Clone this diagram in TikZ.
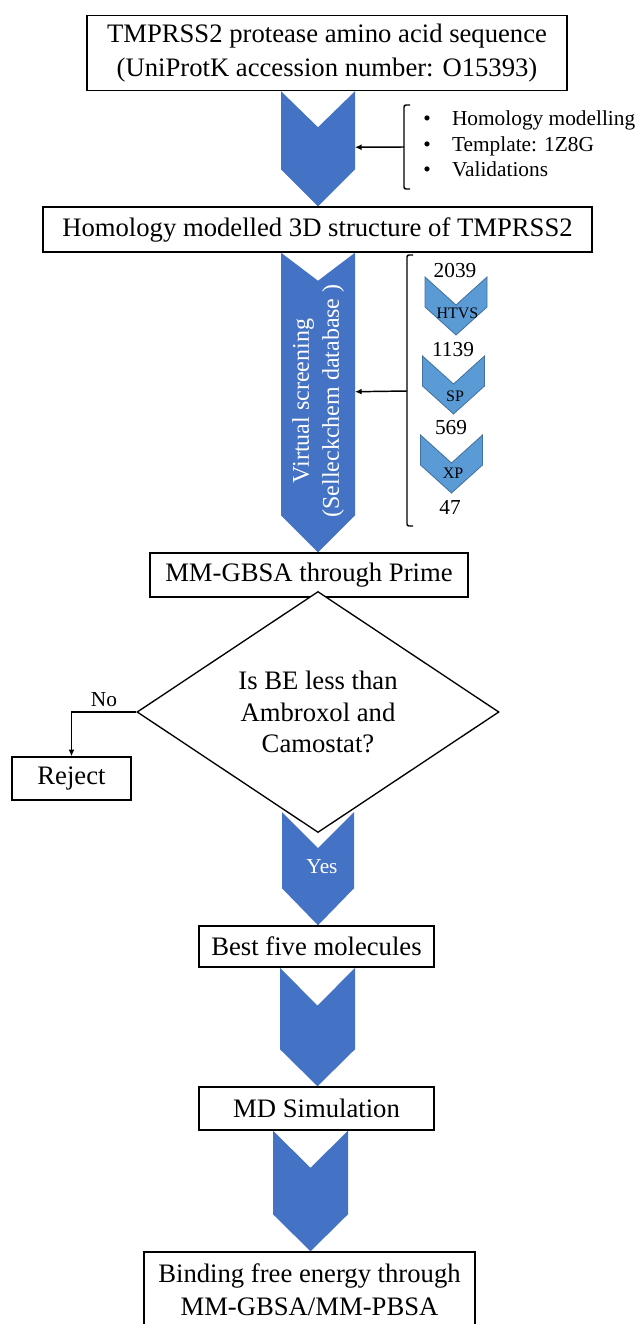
\documentclass[tikz,border=0pt]{standalone}
\usepackage{fontspec}
\setmainfont{Liberation Serif}
\usetikzlibrary{arrows.meta, calc, backgrounds, shapes.geometric}
\definecolor{chevblue}{HTML}{4472C4}
\definecolor{stepblue}{HTML}{5B9BD5}
\definecolor{stepline}{HTML}{41719C}

\begin{document}
\begin{tikzpicture}[x=0.75pt, y=-0.75pt,
    box/.style={draw, line width=1.1pt, fill=white, inner sep=0pt, align=center, font=\fontsize{20}{25}\selectfont},
    decision/.style={draw, diamond, line width=1pt, fill=white, inner sep=0pt, align=center,
      font=\fontsize{20}{23.6}\selectfont, minimum width=271.5pt, minimum height=172.5pt},
    bigchev/.style={fill=chevblue},
    smallchev/.style={fill=stepblue, draw=stepline, line width=0.6pt},
    link/.style={-{Latex[length=5pt, width=4.5pt]}, line width=1.1pt},
    brk/.style={line width=1.1pt, rounded corners=1.5pt},
    num/.style={inner sep=0pt, font=\fontsize{16}{19}\selectfont},
    steplab/.style={inner sep=0pt, font=\fontsize{12}{14}\selectfont}
    ]

    \useasboundingbox (0,0) rectangle (637,1324);

    % main boxes
    \node[box, minimum width=360pt, minimum height=56.25pt] (seq) at (327,53)
      {TMPRSS2 protease amino acid sequence\\(UniProtK accession number: O15393)};
    \node[box, minimum width=411.75pt, minimum height=33.75pt] (homol) at (317.5,229.5)
      {Homology modelled 3D structure of TMPRSS2};
    \node[box, minimum width=238.5pt, minimum height=33pt] (mmgbsa) at (309,575)
      {MM-GBSA through Prime};
    \node[decision] (dec) at (318,712) {Is BE less than\\Ambroxol and\\Camostat?};
    \node[box, minimum width=89.25pt, minimum height=32.25pt] (reject) at (71.5,778.5) {Reject};
    \node[box, minimum width=176.25pt, minimum height=30.75pt] (best) at (316.5,946.5)
      {Best five molecules};
    \node[box, minimum width=176.25pt, minimum height=32.25pt] (md) at (316.5,1108.5)
      {MD Simulation};
    \node[box, minimum width=248.25pt, minimum height=57pt] (bfe) at (309.5,1290)
      {Binding free energy through\\MM-GBSA/MM-PBSA};

    % chevron ends
    \coordinate (c1t) at (318,0 |- seq.south);
    \coordinate (c1b) at (318,0 |- homol.north);
    \coordinate (c2t) at (318,0 |- homol.south);
    \coordinate (c2b) at (318,0 |- mmgbsa.north);
    \coordinate (c3t) at ($(dec.south)+(0,-21)$);
    \coordinate (c3b) at (318,0 |- best.north);
    \coordinate (c4t) at (317.5,0 |- best.south);
    \coordinate (c4b) at (317.5,0 |- md.north);
    \coordinate (c5t) at (310.5,0 |- md.south);
    \coordinate (c5b) at (310.5,0 |- bfe.north);

    \begin{scope}[on background layer]
      \foreach \t/\b/\hw/\nd in {c1t/c1b/37/36, c2t/c2b/37/28, c3t/c3b/36/36, c4t/c4b/37.5/38, c5t/c5b/37.5/37}
        \fill[bigchev] ($(\t)+(-\hw,0)$) -- ($(\t)+(0,\nd)$) -- ($(\t)+(\hw,0)$)
          -- ($(\b)+(\hw,-37)$) -- (\b) -- ($(\b)+(-\hw,-37)$) -- cycle;
    \end{scope}

    \node[rotate=90, text=white, align=center, inner sep=0pt, font=\fontsize{18}{22.5}\selectfont] (vscreen) at (318,401)
      {Virtual screening\\(Selleckchem database )};
    \node[text=white, inner sep=0pt, font=\fontsize{16}{18}\selectfont] (yes) at (322,867) {Yes};

    % homology modelling steps
    \node[anchor=west, inner sep=0pt, font=\fontsize{16}{19}\selectfont] (tasks) at (423,146)
      {\begin{tabular}{@{}l@{\hspace{16pt}}l@{}}
        \textbullet & Homology modelling\\
        \textbullet & Template: 1Z8G\\
        \textbullet & Validations
      \end{tabular}};
    \draw[brk] (410,105) -- (404,105) -- (404,189) -- (410,189);
    \coordinate (k1) at (404,147);
    \coordinate (c1e) at ($(c1t)+(37,56)$);
    \draw[link] (k1) -- (c1e);

    % docking funnel
    \draw[brk] (413,255) -- (407,255) -- (407,526) -- (413,526);
    \coordinate (k2) at (407,391);
    \coordinate (c2e) at ($(c2t)+(37,139)$);
    \draw[link] (k2) -- (c2e);

    \foreach \cx/\ty/\lab/\ly in {456/277/HTVS/313, 453.5/356/SP/396, 451.5/435/XP/473} {
      \draw[smallchev] (\cx-31,\ty) -- (\cx,\ty+28) -- (\cx+31,\ty) -- (\cx+31,\ty+30)
        -- (\cx,\ty+58) -- (\cx-31,\ty+30) -- cycle;
      \node[steplab] (lab\lab) at (\cx+1.5,\ly) {\lab};
    }
    \node[num] (n2039) at (455,271) {2039};
    \node[num] (n1139) at (453,350) {1139};
    \node[num] (n569) at (451,428) {569};
    \node[num] (n47) at (450,507) {47};

    % reject branch
    \draw[link] (dec.west) -| (reject.north);
    \node[num] (no) at (104,700) {No};

\end{tikzpicture}
\end{document}
